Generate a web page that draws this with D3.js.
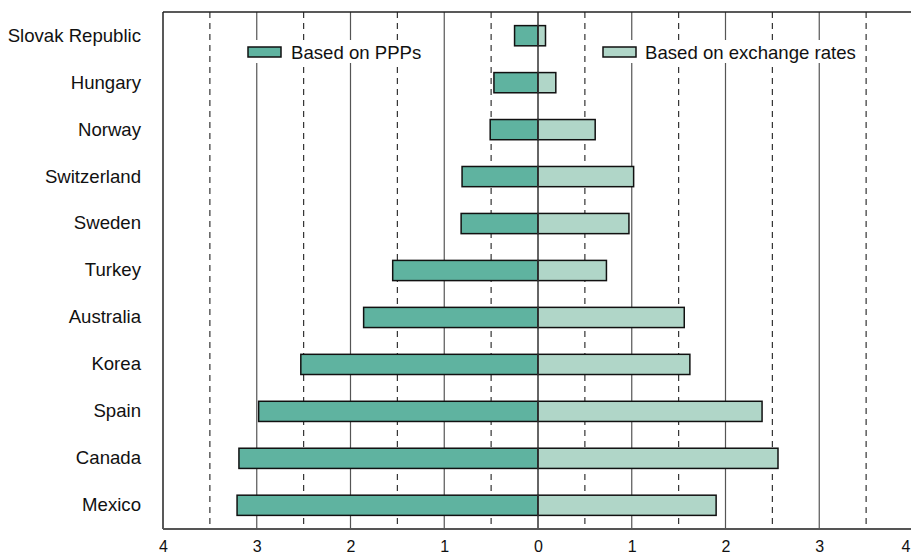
<!DOCTYPE html>
<html>
<head>
<meta charset="utf-8">
<script src="https://cdn.jsdelivr.net/npm/d3@7"></script>
<style>
  html, body { margin: 0; padding: 0; background: #fff; }
  svg { display: block; }
</style>
</head>
<body>
<svg id="chart" width="911" height="556"></svg>
<script>
const countries = ["Slovak Republic", "Hungary", "Norway", "Switzerland", "Sweden", "Turkey", "Australia", "Korea", "Spain", "Canada", "Mexico"];
const pppValues = [0.25, 0.47, 0.51, 0.81, 0.82, 1.55, 1.86, 2.53, 2.98, 3.19, 3.21];
const exchangeValues = [0.08, 0.19, 0.61, 1.02, 0.97, 0.73, 1.56, 1.62, 2.39, 2.56, 1.90];
const tickValues = [-4, -3, -2, -1, 0, 1, 2, 3, 4];
const legendLabels = ["Based on PPPs", "Based on exchange rates"];

(function () {
const svg = d3.select("#chart");
const leftX = 163, topY = 12, bottomY = 529, rightEnd = 913;
const x = d3.scaleLinear().domain([-4, 4]).range([leftX, rightEnd]);
const y = d3.scaleBand().domain(countries).range([topY, bottomY]).paddingInner(0.57).paddingOuter(0.29);

const pppColor = "#5fb3a0", exColor = "#b0d6c8";
const labelFont = "'Liberation Sans', Arial, sans-serif";

// grid
const g = svg.append("g");
const solids = [-3, -2, -1, 1, 2, 3];
const dashes = d3.range(-3.5, 3.6, 1);
g.selectAll("line.solid").data(solids).enter().append("line")
  .attr("x1", d => x(d)).attr("x2", d => x(d)).attr("y1", topY).attr("y2", bottomY)
  .attr("stroke", "#555").attr("stroke-width", 1.2);
g.selectAll("line.dash").data(dashes).enter().append("line")
  .attr("x1", d => x(d)).attr("x2", d => x(d)).attr("y1", topY).attr("y2", bottomY)
  .attr("stroke", "#333").attr("stroke-width", 1.2).attr("stroke-dasharray", "6,5");

// legend backgrounds
svg.append("rect").attr("x", 244).attr("y", 40).attr("width", 184).attr("height", 23).attr("fill", "#fff");
svg.append("rect").attr("x", 599).attr("y", 40).attr("width", 261).attr("height", 23).attr("fill", "#fff");

// bars
svg.selectAll("rect.ppp").data(countries).enter().append("rect")
  .attr("x", (d, i) => x(-pppValues[i]))
  .attr("y", d => y(d))
  .attr("width", (d, i) => x(0) - x(-pppValues[i]))
  .attr("height", y.bandwidth())
  .attr("fill", pppColor).attr("stroke", "#111").attr("stroke-width", 1.5);
svg.selectAll("rect.ex").data(countries).enter().append("rect")
  .attr("x", x(0))
  .attr("y", d => y(d))
  .attr("width", (d, i) => x(exchangeValues[i]) - x(0))
  .attr("height", y.bandwidth())
  .attr("fill", exColor).attr("stroke", "#111").attr("stroke-width", 1.5);

// zero line
svg.append("line").attr("x1", x(0)).attr("x2", x(0)).attr("y1", topY).attr("y2", bottomY)
  .attr("stroke", "#333").attr("stroke-width", 1.5);

// frame
svg.append("line").attr("x1", leftX).attr("x2", 911).attr("y1", topY).attr("y2", topY)
  .attr("stroke", "#222").attr("stroke-width", 1.5);
svg.append("line").attr("x1", leftX).attr("x2", leftX).attr("y1", topY).attr("y2", bottomY)
  .attr("stroke", "#222").attr("stroke-width", 1.5);
svg.append("line").attr("x1", leftX).attr("x2", 911).attr("y1", bottomY).attr("y2", bottomY)
  .attr("stroke", "#555").attr("stroke-width", 2);

// axes
const xAxis = d3.axisBottom(x).tickValues(tickValues).tickFormat(d => Math.abs(d)).tickSize(0).tickPadding(12);
const xg = svg.append("g").attr("transform", `translate(0,${bottomY})`).call(xAxis);
xg.select(".domain").remove();
xg.selectAll("text").attr("font-family", "'Liberation Sans Narrow', 'Arial Narrow', 'Liberation Sans', sans-serif")
  .attr("font-size", 16).attr("fill", "#111");
xg.selectAll(".tick").filter(d => d === 4).select("text")
  .attr("text-anchor", "end").attr("dx", -3);

const yAxis = d3.axisLeft(y).tickSize(0).tickPadding(22);
const yg = svg.append("g").attr("transform", `translate(${leftX},0)`).call(yAxis);
yg.select(".domain").remove();
yg.selectAll("text").attr("font-family", labelFont)
  .attr("font-size", 18.6).attr("fill", "#111");

// legend
const legendPos = [{sx: 248, tx: 291}, {sx: 603, tx: 645}];
const colors = [pppColor, exColor];
legendLabels.forEach((lab, i) => {
  svg.append("rect").attr("x", legendPos[i].sx).attr("y", 47).attr("width", 33).attr("height", 10)
    .attr("fill", colors[i]).attr("stroke", "#111").attr("stroke-width", 1.5);
  svg.append("text").attr("x", legendPos[i].tx).attr("y", 52).attr("dy", "0.35em")
    .attr("font-family", labelFont).attr("font-size", 18.6)
    .attr("fill", "#111").text(lab);
});
})();
</script>
</body>
</html>
